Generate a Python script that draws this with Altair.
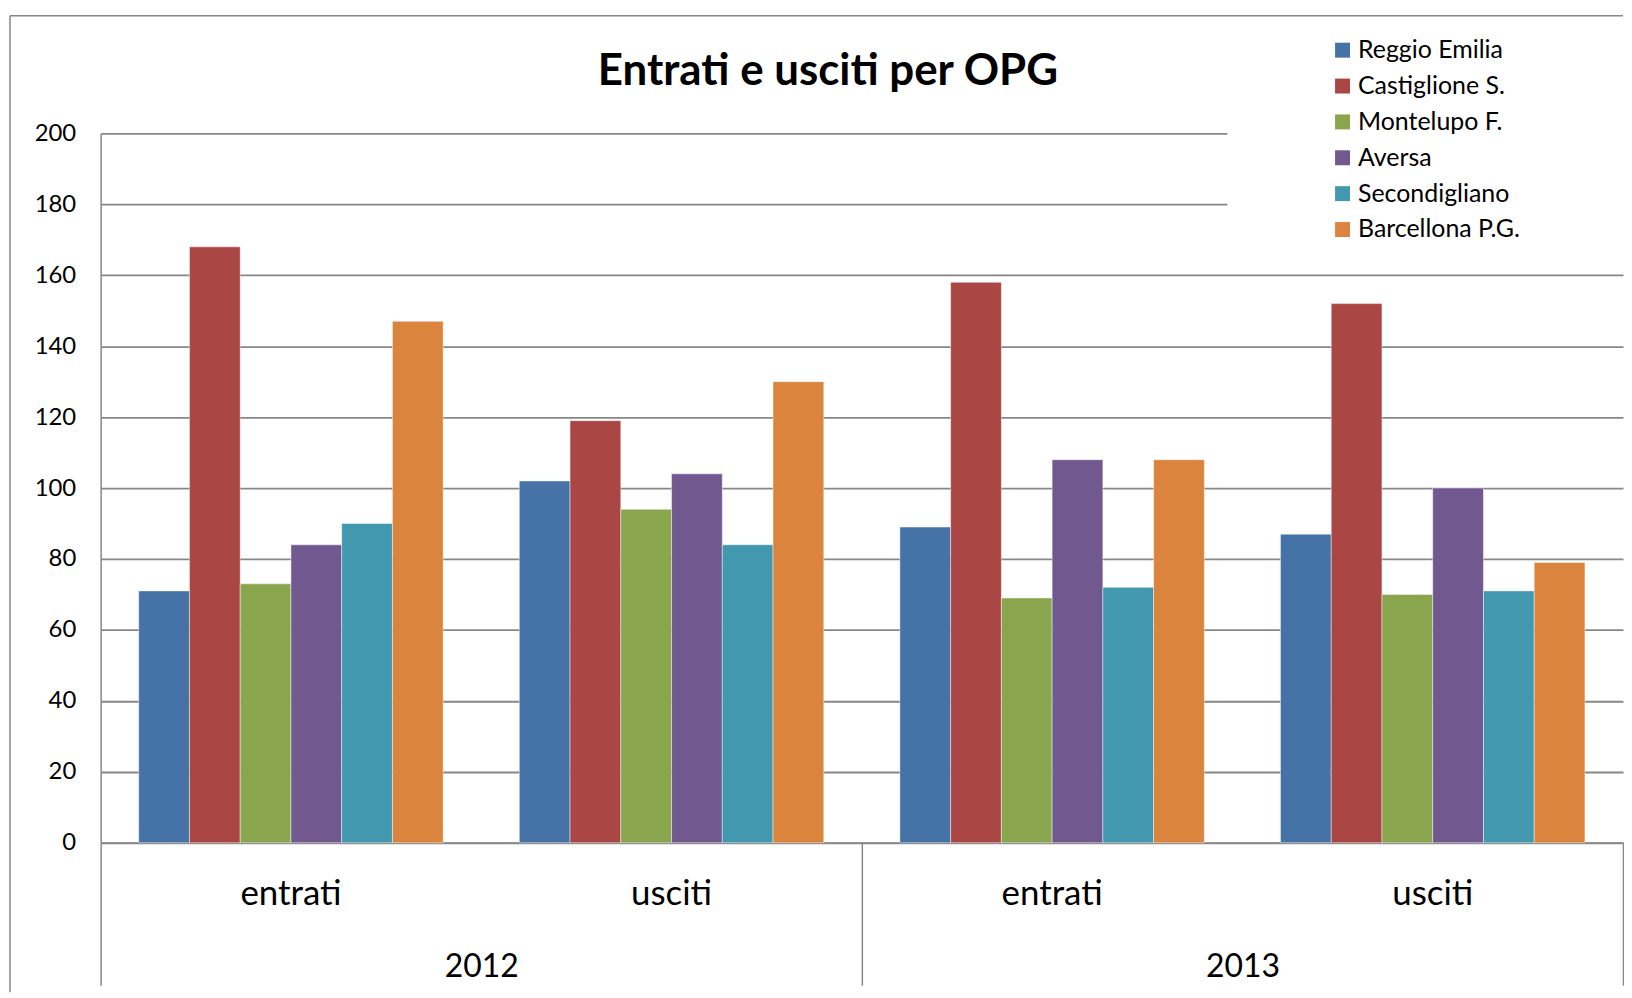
import altair as alt
import pandas as pd

# ---------------- data ----------------
years = ["2012", "2013"]
types = ["entrati", "usciti"]
series = ["Reggio Emilia", "Castiglione S.", "Montelupo F.", "Aversa",
          "Secondigliano", "Barcellona P.G."]
colors = ["#4572A7", "#AA4643", "#89A54E", "#71588F", "#4198AF", "#DB843D"]

# values in order: 2012 entrati, 2012 usciti, 2013 entrati, 2013 usciti
reggio_emilia = [71, 102, 89, 87]
castiglione = [168, 119, 158, 152]
montelupo = [73, 94, 69, 70]
aversa = [84, 104, 108, 100]
secondigliano = [90, 84, 72, 71]
barcellona = [147, 130, 108, 79]

y_ticks = [0, 20, 40, 60, 80, 100, 120, 140, 160, 180, 200]
title_text = "Entrati e usciti per OPG"

groups = [f"{y} {t}" for y in years for t in types]
all_values = [reggio_emilia, castiglione, montelupo, aversa, secondigliano, barcellona]
rows = []
for s, vals in zip(series, all_values):
    for g, v in zip(groups, vals):
        yr, tp = g.split(" ")
        rows.append({"year": yr, "type": tp, "group": g, "series": s, "value": v})
df = pd.DataFrame(rows)
frame_df = pd.DataFrame({"k": [0]})

# ---------------- style ----------------
W, H = 1528, 712
FONT = "Lato"
GRAY = "#878787"
# invisible spacing that widens the white legend box on the right
PAD_RIGHT = "\u00a0" * 15 + "\u200b"

bars = alt.Chart(df).mark_bar(stroke="white", strokeOpacity=0.45, strokeWidth=1).encode(
    x=alt.X("group:N", sort=groups, title=None,
            scale=alt.Scale(paddingInner=0.2, paddingOuter=0.1),
            axis=alt.Axis(orient="bottom", labelExpr="split(datum.label, ' ')[1]",
                          labelAngle=0, ticks=False, tickSize=0, grid=False,
                          domainColor=GRAY, domainWidth=1.5,
                          labelFont=FONT, labelFontSize=35, labelColor="black",
                          labelPadding=34, labelBaseline="top")),
    xOffset=alt.XOffset("series:N", sort=series,
                        scale=alt.Scale(paddingInner=0, paddingOuter=0)),
    y=alt.Y("value:Q", title=None, scale=alt.Scale(domain=[0, 200], nice=False),
            axis=alt.Axis(values=y_ticks, ticks=False, tickSize=0, labelPadding=25,
                          labelFont=FONT, labelFontSize=24, labelColor="black",
                          domainColor=GRAY, domainWidth=1.5,
                          gridColor=GRAY, gridWidth=1.8)),
    color=alt.Color("series:N", sort=series,
                    scale=alt.Scale(domain=series, range=colors),
                    legend=alt.Legend(title=None,
                                      orient="none", legendX=1131, legendY=-104,
                                      fillColor="white", padding=8,
                                      symbolType="square", symbolSize=225,
                                      symbolStrokeWidth=0, symbolOffset=95,
                                      labelOffset=3, labelFont=FONT,
                                      labelFontSize=25, labelColor="black",
                                      labelExpr=f"datum.label + '{PAD_RIGHT}'",
                                      rowPadding=10, labelLimit=500)),
)

year_layer = alt.Chart(df).mark_point(opacity=0).encode(
    x=alt.X("year:N", sort=years, title=None,
            scale=alt.Scale(paddingInner=0, paddingOuter=0),
            axis=alt.Axis(orient="bottom", domain=False, ticks=True, tickBand="extent",
                          tickSize=143, tickColor=GRAY, tickWidth=1.5,
                          labelPadding=-34, labelFont=FONT, labelFontSize=32,
                          labelColor="black", labelAngle=0, grid=False,
                          labelBaseline="top")),
)

frame_top = alt.Chart(frame_df).mark_rule(color=GRAY, strokeWidth=1.5).encode(
    x=alt.value(-91), x2=alt.value(W), y=alt.value(-118))
frame_left = alt.Chart(frame_df).mark_rule(color=GRAY, strokeWidth=1.5).encode(
    x=alt.value(-91), y=alt.value(-118), y2=alt.value(862))

chart = alt.layer(bars, year_layer, frame_top, frame_left).resolve_scale(
    x="independent"
).properties(
    width=W, height=H,
    padding={"left": 1, "top": 5, "right": 0, "bottom": 0},
    title=alt.TitleParams(title_text, font=FONT, fontSize=44, fontWeight="bold",
                          color="black", anchor="middle", frame="group",
                          baseline="alphabetic", offset=0, dx=-34, dy=114),
).configure(font=FONT, background="white").configure_view(strokeWidth=0)

chart.save("out.html", embed_options={"renderer": "svg", "actions": False})
